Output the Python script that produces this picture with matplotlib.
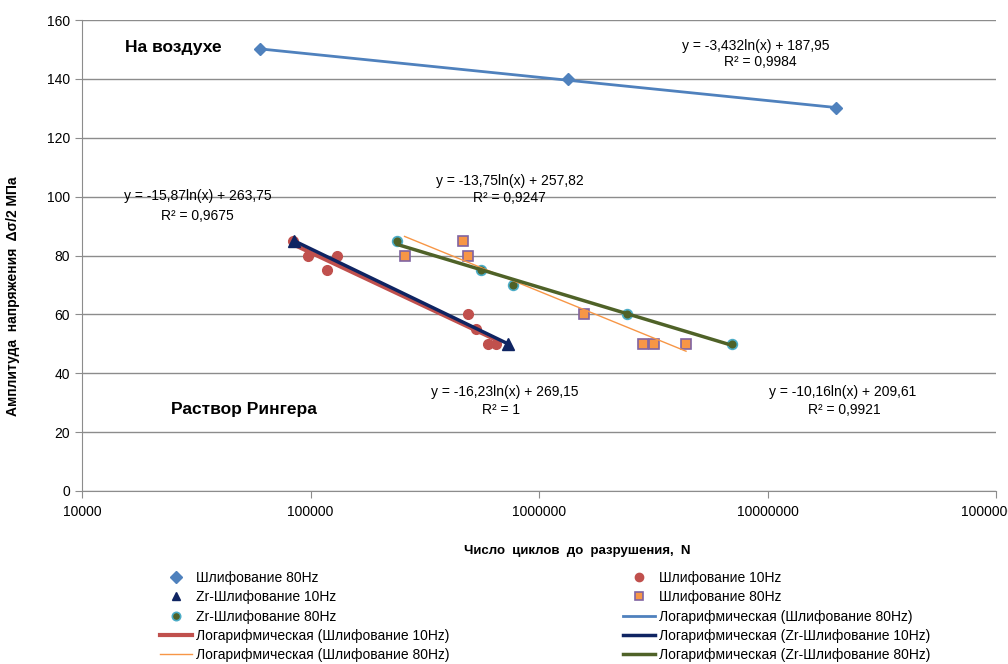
import numpy as np
import matplotlib
matplotlib.use('Agg')
import matplotlib.pyplot as plt

plt.rcParams['font.family'] = ['Liberation Sans Narrow', 'Liberation Sans', 'DejaVu Sans']

# --- data ---
air_n = [60000, 1340000, 20000000]
air_s = [150, 140, 130]

sh10_n = [84000, 98000, 130000, 118000, 487000, 528000, 600000, 646000]
sh10_s = [85, 80, 80, 75, 60, 55, 50, 50]

zr10_n = [85000, 730000]
zr10_s = [85, 50]

sh80_n = [258000, 467000, 491000, 1570000, 2860000, 3180000, 4400000]
sh80_s = [80, 85, 80, 60, 50, 50, 50]

zr80_n = [240000, 557000, 773000, 2430000, 6970000]
zr80_s = [85, 75, 70, 60, 50]

# trend coefficients printed on the chart: y = a*ln(x) + b
air_fit = (-3.432, 187.95)
sh10_fit = (-15.87, 263.75)
zr10_fit = (-16.23, 269.15)
sh80_fit = (-13.75, 257.82)
zr80_fit = (-10.16, 209.61)

c_blue = '#4F81BD'
c_red = '#C0504D'
c_navy = '#0F2462'
c_orange = '#F79646'
c_purple = '#8064A2'
c_olive = '#4F6228'
c_cyan = '#4BACC6'
c_grid = '#8C8C8C'

fig = plt.figure(figsize=(10.08, 6.64), dpi=100)
ax = fig.add_axes([82/1008, 1-491/664, 914/1008, 471/664])


def trend(n, fit):
    x = np.logspace(np.log10(min(n)), np.log10(max(n)), 200)
    return x, fit[0]*np.log(x) + fit[1]


h1, = ax.plot(air_n, air_s, ls='none', marker='D', ms=6, color=c_blue, zorder=4)
h2, = ax.plot(sh10_n, sh10_s, ls='none', marker='o', ms=7, color=c_red, zorder=3)
h3, = ax.plot(zr10_n, zr10_s, ls='none', marker='^', ms=9, color=c_navy, zorder=6)
h4, = ax.plot(sh80_n, sh80_s, ls='none', marker='s', ms=7.5, mfc=c_orange,
              mec=c_purple, mew=1.2, zorder=3)
h5, = ax.plot(zr80_n, zr80_s, ls='none', marker='o', ms=7, mfc=c_olive,
              mec=c_cyan, mew=1.2, zorder=3)

x, y = trend(air_n, air_fit)
t1, = ax.plot(x, y, color=c_blue, lw=2, zorder=4)
x, y = trend(sh10_n, sh10_fit)
t2, = ax.plot(x, y, color=c_red, lw=3, zorder=4)
x, y = trend(zr10_n, zr10_fit)
t3, = ax.plot(x, y, color=c_navy, lw=2.5, zorder=5)
x, y = trend(sh80_n, sh80_fit)
t4, = ax.plot(x, y, color=c_orange, lw=1, zorder=4)
x, y = trend(zr80_n, zr80_fit)
t5, = ax.plot(x, y, color=c_olive, lw=2.5, zorder=4)

ax.set_xscale('log')
ax.set_xlim(1e4, 1e8)
ax.set_ylim(0, 160)
ax.set_yticks(np.arange(0, 161, 20))
ax.set_xticks([1e4, 1e5, 1e6, 1e7, 1e8])
ax.set_xticklabels(['10000', '100000', '1000000', '10000000', '100000000'])
ax.xaxis.set_minor_locator(matplotlib.ticker.NullLocator())
ax.grid(axis='y', color=c_grid, lw=1)
ax.set_axisbelow(True)
for s in ['top', 'right']:
    ax.spines[s].set_visible(False)
for s in ['left', 'bottom']:
    ax.spines[s].set_color(c_grid)
ax.tick_params(colors=c_grid, labelcolor='black', labelsize=10, length=5)
ax.tick_params(axis='x', pad=5)
ax.set_xlabel('Число  циклов  до  разрушения,  N', fontsize=9.5, fontweight='bold')
ax.set_ylabel('Амплитуда  напряжения  Δσ/2 МПа', fontsize=10, fontweight='bold')
ax.xaxis.set_label_coords(0.542, (491-545)/471)
ax.yaxis.set_label_coords((20-82)/914, 0.414)
for lab in ax.get_xticklabels():
    lab.set_clip_on(False)

tkw = dict(transform=ax.transAxes, fontsize=10, va='center')
ax.text(0.047, 0.941, 'На воздухе', ha='left', fontweight='bold', fontsize=12.5,
        transform=ax.transAxes, va='center')
ax.text(0.097, 0.172, 'Раствор Рингера', ha='left', fontweight='bold', fontsize=12.5,
        transform=ax.transAxes, va='center')
ax.text(0.737, 0.945, 'y = -3,432ln(x) + 187,95', ha='center', **tkw)
ax.text(0.742, 0.911, 'R² = 0,9984', ha='center', **tkw)
ax.text(0.127, 0.626, 'y = -15,87ln(x) + 263,75', ha='center', **tkw)
ax.text(0.126, 0.584, 'R² = 0,9675', ha='center', **tkw)
ax.text(0.468, 0.658, 'y = -13,75ln(x) + 257,82', ha='center', **tkw)
ax.text(0.468, 0.622, 'R² = 0,9247', ha='center', **tkw)
ax.text(0.462, 0.210, 'y = -16,23ln(x) + 269,15', ha='center', **tkw)
ax.text(0.458, 0.172, 'R² = 1', ha='center', **tkw)
ax.text(0.832, 0.210, 'y = -10,16ln(x) + 209,61', ha='center', **tkw)
ax.text(0.834, 0.172, 'R² = 0,9921', ha='center', **tkw)

lkw = dict(frameon=False, fontsize=10, handlelength=2.3, handletextpad=0.3,
           labelspacing=0.38, borderaxespad=0, borderpad=0)
leg1 = fig.legend([h1, h3, h5, t2, t4],
                  ['Шлифование 80Hz', 'Zr-Шлифование 10Hz', 'Zr-Шлифование 80Hz',
                   'Логарифмическая (Шлифование 10Hz)',
                   'Логарифмическая (Шлифование 80Hz)'],
                  loc='upper left', bbox_to_anchor=(160/1008, 1-571/664), **lkw)
leg2 = fig.legend([h2, h4, t1, t3, t5],
                  ['Шлифование 10Hz', 'Шлифование 80Hz',
                   'Логарифмическая (Шлифование 80Hz)',
                   'Логарифмическая (Zr-Шлифование 10Hz)',
                   'Логарифмическая (Zr-Шлифование 80Hz)'],
                  loc='upper left', bbox_to_anchor=(623/1008, 1-571/664), **lkw)
for lg in (leg1, leg2):
    for hd in lg.legend_handles:
        if hd.get_marker() not in (None, 'None', ''):
            hd.set_markersize(6)

fig.savefig('out.png', dpi=100)
